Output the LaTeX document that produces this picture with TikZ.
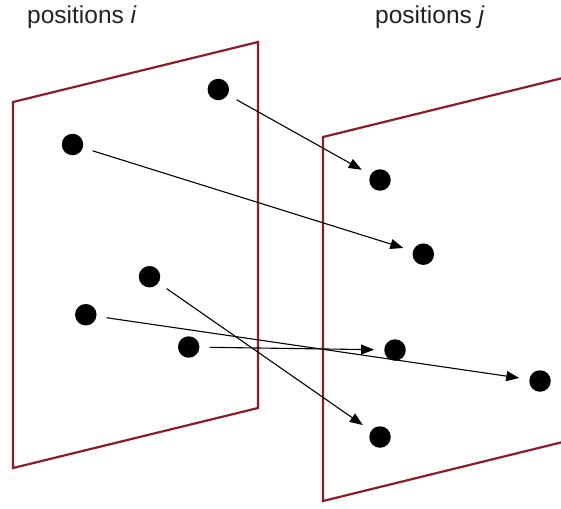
\documentclass[tikz,border=0pt]{standalone}
\usepackage{fontspec}
\setmainfont{Liberation Sans}
\usetikzlibrary{arrows.meta}
\definecolor{planered}{RGB}{140,28,42}
\definecolor{txt}{RGB}{35,35,35}
\begin{document}
\begin{tikzpicture}[x=1pt,y=-1pt,
  plane/.style={draw=planered,line width=2.2pt,line join=miter},
  dot/.style={circle,fill=black,inner sep=0pt,minimum size=21.5pt},
  link/.style={draw=black,line width=1.1pt,shorten <=10pt,shorten >=10pt,
    -{Triangle[length=13pt,width=10pt]}},
  lbl/.style={font=\fontsize{24.5}{28}\selectfont,text=txt,inner sep=0pt,anchor=west}]
\useasboundingbox (0,0) rectangle (561,508);
\begin{scope}
\clip (0,0) rectangle (561,508);
% left plane
\draw[plane] (13,102) -- (258,42) -- (258,408) -- (13,468) -- cycle;
% right plane
\draw[plane] (575,75) -- (323,137) -- (323,501) -- (575,439);
\end{scope}
\node[lbl] (li) at (27,17) {positions \textit{i}};
\node[lbl] (lj) at (375,17) {positions \textit{j}};
% left dots
\node[dot] (a1) at (218.3,89.5) {};
\node[dot] (a2) at (72.5,144.5) {};
\node[dot] (a3) at (149.5,276.7) {};
\node[dot] (a4) at (85.8,314.7) {};
\node[dot] (a5) at (188.7,347) {};
% right dots
\node[dot] (b1) at (380,180) {};
\node[dot] (b2) at (423.3,254.2) {};
\node[dot] (b3) at (395,350) {};
\node[dot] (b4) at (540,381) {};
\node[dot] (b5) at (380,437) {};
% connectors
\draw[link] (a1) -- (b1);
\draw[link] (a2) -- (b2);
\draw[link] (a3) -- (b5);
\draw[link] (a4) -- (b4);
\draw[link] (a5) -- (b3);
\end{tikzpicture}
\end{document}
